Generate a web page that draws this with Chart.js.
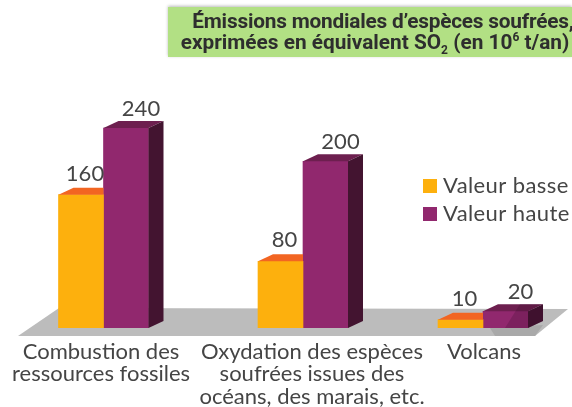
<!DOCTYPE html>
<html lang="fr">
<head>
<meta charset="utf-8">
<title>Émissions mondiales d'espèces soufrées</title>
<script src="https://cdn.jsdelivr.net/npm/chart.js@4"></script>
<style>
  body { margin: 0; background: #fff; }
  #wrap { position: relative; width: 572px; height: 407px; overflow: hidden; }
  #title {
    position: absolute; left: 168px; top: 7px; width: 404px; height: 50px;
    background: #b2e084; box-shadow: 0 -1px 3px #bbb;
    font: bold 20.8px/21px "Liberation Sans Narrow", Roboto, sans-serif;
    color: #2e2e2e; text-align: center; padding: 4px 0 0 10px; box-sizing: border-box;
    white-space: nowrap;
  }
  #title span { position: relative; left: 8px; letter-spacing: -0.2px; }
  #title sub, #title sup { font-size: 12px; line-height: 0; }
</style>
</head>
<body>
<div id="wrap">
  <canvas id="myChart" width="572" height="407"></canvas>
  <div id="title"><span>Émissions mondiales d’espèces soufrées,</span><br>exprimées en équivalent SO<sub>2</sub> (en 10<sup>6</sup> t/an)</div>
</div>
<script>
const categories = [
  ['Combustion des', 'ressources fossiles'],
  ['Oxydation des espèces', 'soufrées issues des', 'océans, des marais, etc.'],
  ['Volcans'],
];
const lowValues = [160, 80, 10];
const highValues = [240, 200, 20];
const seriesNames = ['Valeur basse', 'Valeur haute'];

// the groups are not evenly spaced in the picture, so x is a linear scale in px
const groupX = [103.5, 303, 483];
const labelX = [101, 312, 484];

const frontColors = ['#fdb00d', '#91286e'];
const topColors = ['#f26522', '#6d1f4f'];
const sideColor = '#431430';
const textColor = '#454545';
const textFont = '22px Lato';
const depthX = 15;
const depthY = 7;

const poly = (ctx, color, pts) => {
  ctx.fillStyle = color;
  ctx.beginPath();
  pts.forEach((p, i) => (i ? ctx.lineTo(p[0], p[1]) : ctx.moveTo(p[0], p[1])));
  ctx.closePath();
  ctx.fill();
};

// grey floor under the bars
const floorPlugin = {
  id: 'floor',
  beforeDatasetsDraw(chart) {
    const ctx = chart.ctx;
    poly(ctx, '#bcbcbc', [[18, 336], [59, 308], [568, 309], [535, 336]]);
    poly(ctx, '#a9a9a9', [[490, 328], [543, 325], [535, 336], [495, 336]]);
  },
};

// top and side faces of each bar, plus value labels and the legend
const boxPlugin = {
  id: 'box',
  afterDatasetsDraw(chart) {
    const ctx = chart.ctx;
    chart.data.datasets.forEach((ds, d) => {
      chart.getDatasetMeta(d).data.forEach((bar, i) => {
        const x0 = bar.x - bar.width / 2;
        const x1 = bar.x + bar.width / 2;
        const top = bar.y;
        const base = bar.base;
        poly(ctx, topColors[d], [[x0, top], [x0 + depthX, top - depthY], [x1 + (d ? depthX : 0), top - depthY], [x1, top]]);
        if (d === 1) {
          poly(ctx, sideColor, [[x1, top], [x1 + depthX, top - depthY], [x1 + depthX, base - depthY], [x1, base]]);
        }
        ctx.fillStyle = textColor;
        ctx.font = textFont;
        ctx.textAlign = 'center';
        ctx.textBaseline = 'alphabetic';
        ctx.fillText(ds.data[i].y, bar.x + (d ? 15 : 4), top - depthY - (d ? 5 : 7));
      });
    });

    // the floor shadow shows through the low purple box
    poly(ctx, 'rgba(50,10,40,0.22)', [[505, 328], [520, 304], [543, 304], [543, 321], [528, 328]]);

    seriesNames.forEach((name, d) => {
      const y = 179 + d * 28;
      ctx.fillStyle = frontColors[d];
      ctx.fillRect(423, y, 14, 14);
      ctx.fillStyle = textColor;
      ctx.font = textFont;
      ctx.letterSpacing = '0.4px';
      ctx.textAlign = 'left';
      ctx.textBaseline = 'middle';
      ctx.fillText(name, 443, y + 7);
      ctx.letterSpacing = '0px';
    });
  },
};

new Chart('myChart', {
  type: 'bar',
  data: {
    datasets: [
      {
        label: seriesNames[0],
        data: lowValues.map((v, i) => ({ x: groupX[i], y: v })),
        backgroundColor: frontColors[0],
        barThickness: 45,
      },
      {
        label: seriesNames[1],
        data: highValues.map((v, i) => ({ x: groupX[i], y: v })),
        backgroundColor: frontColors[1],
        barThickness: 45,
      },
    ],
  },
  options: {
    responsive: false,
    animation: false,
    layout: { padding: 0 },
    plugins: {
      legend: { display: false },
      title: { display: false },
      tooltip: { enabled: false },
    },
    scales: {
      x: {
        type: 'linear',
        min: 0,
        max: 572,
        offset: false,
        grid: { display: false },
        border: { display: false },
        afterBuildTicks: (axis) => {
          axis.ticks = labelX.map((v) => ({ value: v }));
        },
        afterFit: (axis) => {
          axis.height = 79;
          axis.paddingLeft = 0;
          axis.paddingRight = 0;
        },
        ticks: {
          autoSkip: false,
          maxRotation: 0,
          padding: 4,
          color: textColor,
          font: { family: 'Lato', size: 22, lineHeight: 1.04 },
          callback: (value, i) => categories[i],
        },
      },
      y: {
        display: false,
        min: 0,
        max: 393.6,
      },
    },
  },
  plugins: [floorPlugin, boxPlugin],
});
</script>
</body>
</html>
